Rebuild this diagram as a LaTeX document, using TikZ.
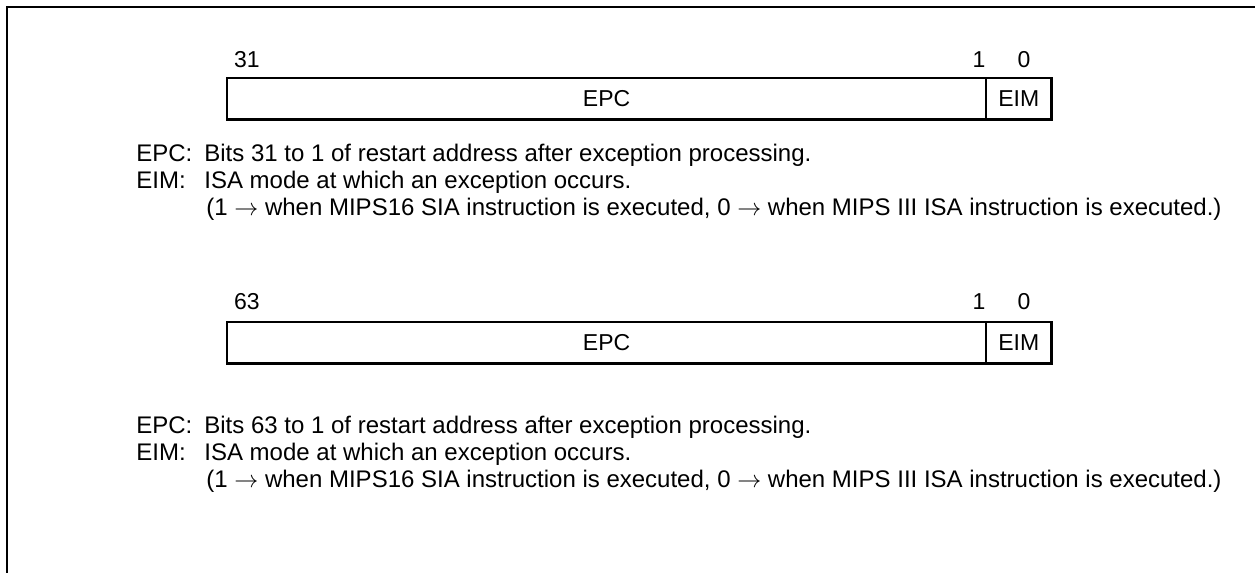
\documentclass[tikz,border=0pt]{standalone}
\usepackage{fontspec}
\setmainfont{Liberation Sans}

\begin{document}
\begin{tikzpicture}[x=0.5pt,y=-0.5pt,
        every node/.style={font=\fontsize{11.5}{13}\selectfont},
        field/.style={draw,line width=0.6pt,inner sep=0pt,anchor=north west,minimum height=20pt},
        txt/.style={anchor=base west,inner sep=0pt,font=\fontsize{12}{14}\selectfont}]
        \useasboundingbox (0,0) rectangle (1255,573);
        \draw[line width=1.1pt] (7,573) -- (7,7) -- (1255,7);

        % 32-bit register
        \node[field,minimum width=379pt] (epcA) at (227,78) {EPC};
        \node[field,minimum width=32pt] (eimA) at (epcA.north east) {EIM};
        \draw[line width=1.3pt] (epcA.north west) rectangle (eimA.south east);
        \node (hiA) at (247,60) {31};
        \node (oneA) at (979,60) {1};
        \node (zeroA) at (1024,60) {0};

        \node[txt] (epcnameA) at (136,161) {EPC:};
        \node[txt] (epcdescA) at (204,161) {Bits 31 to 1 of restart address after exception processing.};
        \node[txt] (eimnameA) at (136,188) {EIM:};
        \node[txt] (eimdescA) at (204,188) {ISA mode at which an exception occurs.};
        \node[txt] (noteA) at (206,215) {(1 $\rightarrow$ when MIPS16 SIA instruction is executed, 0 $\rightarrow$ when MIPS III ISA instruction is executed.)};

        % 64-bit register
        \node[field,minimum width=379pt] (epcB) at (227,322) {EPC};
        \node[field,minimum width=32pt] (eimB) at (epcB.north east) {EIM};
        \draw[line width=1.3pt] (epcB.north west) rectangle (eimB.south east);
        \node (hiB) at (247,302) {63};
        \node (oneB) at (979,302) {1};
        \node (zeroB) at (1024,302) {0};

        \node[txt] (epcnameB) at (136,433) {EPC:};
        \node[txt] (epcdescB) at (204,433) {Bits 63 to 1 of restart address after exception processing.};
        \node[txt] (eimnameB) at (136,460) {EIM:};
        \node[txt] (eimdescB) at (204,460) {ISA mode at which an exception occurs.};
        \node[txt] (noteB) at (206,487) {(1 $\rightarrow$ when MIPS16 SIA instruction is executed, 0 $\rightarrow$ when MIPS III ISA instruction is executed.)};
    \end{tikzpicture}
\end{document}
